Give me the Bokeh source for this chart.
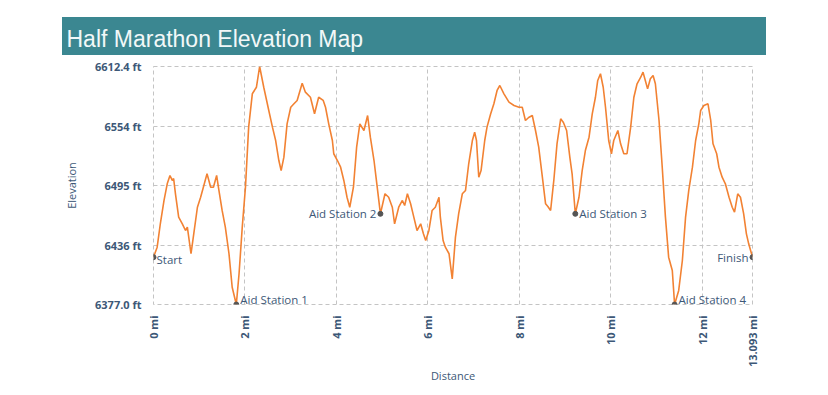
from bokeh.plotting import figure
from bokeh.layouts import column
from bokeh.models import ColumnDataSource, FixedTicker, Range1d, Label
from bokeh.embed import file_html
from bokeh.resources import INLINE
import math

# ---------------- data ----------------
distance_mi = [0.0, 0.08, 0.15, 0.23, 0.30, 0.36, 0.41, 0.44, 0.48, 0.55,
               0.63, 0.70, 0.74, 0.82, 0.88, 0.96, 1.03, 1.09, 1.17, 1.25,
               1.31, 1.38, 1.43, 1.50, 1.57, 1.65, 1.72, 1.81, 1.87, 1.94,
               2.01, 2.08, 2.16, 2.25, 2.32, 2.41, 2.52, 2.60, 2.67, 2.74,
               2.79, 2.85, 2.92, 3.00, 3.07, 3.14, 3.25, 3.32, 3.43, 3.52,
               3.61, 3.71, 3.76, 3.83, 3.91, 3.94, 4.02, 4.09, 4.16, 4.23,
               4.29, 4.37, 4.44, 4.51, 4.60, 4.68, 4.74, 4.82, 4.89, 4.96,
               5.06, 5.14, 5.22, 5.27, 5.36, 5.44, 5.49, 5.55, 5.62, 5.69,
               5.76, 5.84, 5.90, 5.95, 6.02, 6.09, 6.16, 6.24, 6.27, 6.33,
               6.38, 6.46, 6.53, 6.60, 6.67, 6.75, 6.82, 6.89, 6.97, 7.02,
               7.06, 7.11, 7.16, 7.24, 7.29, 7.37, 7.44, 7.51, 7.57, 7.66,
               7.77, 7.88, 7.99, 8.06, 8.13, 8.20, 8.28, 8.35, 8.42, 8.50,
               8.57, 8.62, 8.68, 8.75, 8.82, 8.90, 8.96, 9.03, 9.10, 9.15,
               9.22, 9.30, 9.37, 9.44, 9.52, 9.59, 9.66, 9.71, 9.77, 9.83,
               9.88, 9.95, 10.01, 10.06, 10.15, 10.21, 10.28, 10.35, 10.43, 10.50,
               10.57, 10.65, 10.70, 10.75, 10.80, 10.86, 10.92, 10.97, 11.05, 11.12,
               11.19, 11.26, 11.34, 11.39, 11.48, 11.56, 11.63, 11.70, 11.78, 11.85,
               11.92, 11.96, 12.03, 12.12, 12.18, 12.23, 12.31, 12.36, 12.43, 12.50,
               12.58, 12.65, 12.70, 12.77, 12.83, 12.90, 12.96, 13.01, 13.093]

elevation_ft = [6423.8, 6433.7, 6457.1, 6479.9, 6496.4, 6504.6, 6499.7, 6501.6, 6486.5, 6463.4,
                6456.8, 6450.2, 6453.5, 6427.2, 6446.9, 6473.2, 6483.1, 6493.0, 6506.3, 6493.0,
                6493.0, 6504.6, 6489.8, 6470.0, 6453.5, 6427.2, 6394.1, 6377.0, 6407.4, 6453.5,
                6493.0, 6552.4, 6585.4, 6591.9, 6612.4, 6591.9, 6568.9, 6552.4, 6539.2, 6519.4,
                6509.5, 6522.7, 6555.7, 6572.1, 6575.5, 6578.8, 6595.9, 6587.0, 6582.0, 6565.6,
                6582.0, 6578.8, 6572.1, 6555.7, 6539.2, 6526.1, 6519.4, 6512.8, 6499.7, 6483.1,
                6473.2, 6493.0, 6532.6, 6555.7, 6549.1, 6563.9, 6542.5, 6519.4, 6493.0, 6466.7,
                6486.5, 6483.1, 6473.2, 6456.8, 6473.2, 6479.9, 6474.9, 6486.5, 6476.6, 6463.4,
                6450.2, 6456.8, 6446.9, 6440.3, 6450.2, 6470.0, 6473.2, 6483.1, 6463.4, 6440.3,
                6433.7, 6427.2, 6402.4, 6443.6, 6466.7, 6486.5, 6489.8, 6516.2, 6539.2, 6547.4,
                6539.2, 6502.9, 6509.5, 6539.2, 6552.4, 6565.6, 6575.5, 6588.7, 6593.6, 6585.4,
                6577.1, 6573.8, 6572.1, 6572.1, 6559.0, 6562.0, 6563.9, 6549.1, 6532.6, 6502.9,
                6476.6, 6474.0, 6470.0, 6499.7, 6535.9, 6560.7, 6557.0, 6549.1, 6522.7, 6506.3,
                6466.7, 6483.1, 6509.5, 6529.3, 6542.5, 6565.6, 6582.0, 6598.6, 6605.2, 6591.9,
                6572.1, 6539.2, 6526.1, 6539.2, 6549.1, 6535.9, 6526.1, 6526.1, 6552.4, 6582.0,
                6595.3, 6601.8, 6606.8, 6598.6, 6590.3, 6600.2, 6603.5, 6595.3, 6559.0, 6512.8,
                6463.4, 6423.8, 6410.6, 6377.0, 6390.9, 6420.5, 6463.4, 6489.8, 6512.8, 6539.2,
                6555.7, 6568.9, 6573.8, 6575.5, 6559.0, 6535.9, 6526.1, 6512.8, 6502.9, 6496.4,
                6483.1, 6473.2, 6468.3, 6486.5, 6483.1, 6466.7, 6446.9, 6437.0, 6423.8]

station_names = ["Start", "Aid Station 1", "Aid Station 2", "Aid Station 3", "Aid Station 4", "Finish"]
station_mi = [0.0, 1.81, 4.96, 9.22, 11.39, 13.093]
station_ft = [6423.8, 6377.0, 6466.7, 6466.7, 6377.0, 6423.8]

x_ticks = [0, 2, 4, 6, 8, 10, 12, 13.093]
x_tick_labels = ["0 mi", "2 mi", "4 mi", "6 mi", "8 mi", "10 mi", "12 mi", "13.093 mi"]
y_ticks = [6377.0, 6435.85, 6494.7, 6553.55, 6612.4]
y_tick_labels = ["6377.0 ft", "6436 ft", "6495 ft", "6554 ft", "6612.4 ft"]

title_text = "Half Marathon Elevation Map"

# ---------------- styles ----------------
TEXT_COL = "#3d5877"
FONT = "Open Sans"
GRID_COL = "#c4c4c4"
BANNER_COL = "#3b8791"

W, H = 828, 395
BANNER_L, BANNER_R, BANNER_T, BANNER_B = 62, 766, 17, 55
TOP_H = BANNER_B + 2
FL, FR, FT, FB = 153, 752, 66, 304   # frame edges in page pixels

# ---------------- title banner: a small teal figure carrying the title ----------------
tb = figure(width=BANNER_R - BANNER_L, height=BANNER_B - BANNER_T,
            output_backend="svg", toolbar_location=None,
            x_range=Range1d(0, 1), y_range=Range1d(0, 1),
            min_border=0, min_border_left=0, min_border_right=0,
            min_border_top=34, min_border_bottom=0,
            margin=(BANNER_T, W - BANNER_R, TOP_H - BANNER_B, BANNER_L),
            styles={"background-color": BANNER_COL})
tb.axis.visible = False
tb.grid.visible = False
tb.outline_line_color = None
tb.background_fill_color = BANNER_COL
tb.border_fill_color = BANNER_COL
tb.title.text = title_text
tb.title.align = "left"
tb.title.text_font = "Liberation Sans"
tb.title.text_font_size = "23px"
tb.title.text_font_style = "normal"
tb.title.text_color = "#f2f8f8"
tb.title.standoff = 0
tb.title.offset = (BANNER_L + 4) - (BANNER_L + FL)   # banner frame is aligned with the chart frame

# ---------------- main chart ----------------
p = figure(width=W, height=H - TOP_H, output_backend="svg", toolbar_location=None,
           x_range=Range1d(x_ticks[0], x_ticks[-1]),
           y_range=Range1d(y_ticks[0], y_ticks[-1]),
           min_border_left=FL, min_border_right=W - FR,
           min_border_top=FT - TOP_H, min_border_bottom=H - FB)
p.background_fill_color = "white"
p.border_fill_color = "white"
p.outline_line_color = GRID_COL
p.outline_line_dash = "4 3"
p.outline_line_width = 1

p.xaxis.ticker = FixedTicker(ticks=x_ticks)
p.yaxis.ticker = FixedTicker(ticks=y_ticks)
p.xaxis.major_label_overrides = {t: l for t, l in zip(x_ticks, x_tick_labels)}
p.yaxis.major_label_overrides = {t: l for t, l in zip(y_ticks, y_tick_labels)}
p.xaxis.major_label_orientation = math.pi / 2
for ax in (p.xaxis, p.yaxis):
    ax.axis_line_color = None
    ax.major_tick_line_color = None
    ax.minor_tick_line_color = None
    ax.major_tick_out = 0
    ax.major_tick_in = 0
    ax.minor_tick_out = 0
    ax.minor_tick_in = 0
    ax.major_label_text_font = FONT
    ax.major_label_text_font_size = "11px"
    ax.major_label_text_font_style = "bold"
    ax.major_label_text_color = TEXT_COL
    ax.axis_label_text_font = FONT
    ax.axis_label_text_font_size = "11px"
    ax.axis_label_text_font_style = "normal"
    ax.axis_label_text_color = TEXT_COL
p.xaxis.axis_label = "Distance"
p.yaxis.axis_label = "Elevation"
p.xaxis.major_label_standoff = 11
p.yaxis.major_label_standoff = 12
p.xaxis.axis_label_standoff = -2
p.yaxis.axis_label_standoff = 13

p.xgrid.grid_line_color = GRID_COL
p.ygrid.grid_line_color = GRID_COL
p.xgrid.grid_line_dash = "4 3"
p.ygrid.grid_line_dash = "4 3"

src = ColumnDataSource(dict(x=distance_mi, y=elevation_ft))
p.line("x", "y", source=src, line_color="#f28233", line_width=1.6)

st = ColumnDataSource(dict(x=station_mi, y=station_ft, name=station_names))
p.scatter("x", "y", source=st, size=5, fill_color="#555555", line_color="#555555")

label_align = ["left", "left", "right", "left", "left", "right"]
label_dx = [3, 4, -4, 4, 4, -4]
label_dy = [2, -5, 0, 0, -5, 0]
for name, xm, yf, al, dx, dy in zip(station_names, station_mi, station_ft, label_align, label_dx, label_dy):
    p.add_layout(Label(x=xm, y=yf, text=name, x_offset=dx, y_offset=-dy,
                       text_align=al, text_baseline="middle",
                       text_font=FONT, text_font_size="11.5px", text_color=TEXT_COL))

layout = column(tb, p, spacing=0)
open("out.html", "w").write(file_html(layout, INLINE))
